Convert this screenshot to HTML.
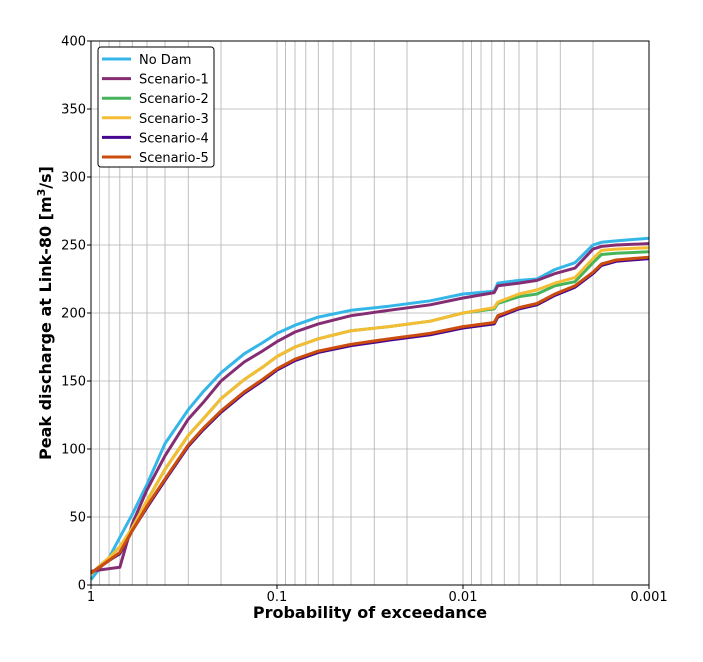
<!DOCTYPE html>
<html><head><meta charset="utf-8"><style>
body{margin:0;background:#fff;}
svg text{font-family:"DejaVu Sans","Liberation Sans",sans-serif;}
</style></head><body>
<svg id="chart" width="703" height="657" xmlns="http://www.w3.org/2000/svg">
<g id="grid"></g>
<g id="series"></g>
<rect x="91" y="41" width="558" height="544" fill="none" stroke="#000" stroke-width="1"/>
<g id="ticks"></g>
<text x="370" y="618" text-anchor="middle" font-size="16" font-weight="bold">Probability of exceedance</text>
<text transform="translate(51,313) rotate(-90)" text-anchor="middle" font-size="16" font-weight="bold">Peak discharge at Link-80 [m<tspan font-size="11" dy="-6">3</tspan><tspan dy="6">/s]</tspan></text>
<g>
<rect x="98" y="47" width="116" height="120" rx="3" fill="#fff" stroke="#000" stroke-width="1"/>
<g id="legend-items"></g>
</g>
</svg>
<script>
const probs = [1,0.9,0.8,0.7,0.6,0.5,0.4,0.3,0.25,0.2,0.15,0.12,0.1,0.08,0.06,0.04,0.025,0.015,0.01,0.0068,0.0065,0.005,0.004,0.0032,0.0025,0.002,0.0018,0.0015,0.001];
const seriesNames = ["No Dam","Scenario-1","Scenario-2","Scenario-3","Scenario-4","Scenario-5"];
const noDam = [4,12,20,35,52,74,104,129,142,156,170,178,185,191,197,202,205,209,214,216,222,224,225,232,237,250,252,253,255];
const scen1 = [10,11,12,13,45,70,95,122,134,150,164,172,179,186,192,198,202,206,211,215,220,222,224,229,233,247,249,250,251];
const scen2 = [8,14,20,28,42,62,85,110,122,137,151,160,168,175,181,187,190,194,200,203,207,212,214,220,223,237,243,244,245];
const scen3 = [8,14,20,28,42,62,85,110,122,137,151,160,168,175,181,187,190,194,200,204,208,214,217,222,226,240,246,247,248];
const scen4 = [9,13,18,23,40,57,77,102,114,127,141,150,158,165,171,176,180,184,189,192,197,203,206,213,219,229,235,238,240];
const scen5 = [9,13,18,24,40,58,78,103,115,128,142,151,159,166,172,177,181,185,190,193,198,204,207,214,220,230,236,239,241];
const yTicks = [0,50,100,150,200,250,300,350,400];
const xTicks = [1,0.1,0.01,0.001];
const xTickLabels = ["1","0.1","0.01","0.001"];
const colors = ["#35b6e9","#842d72","#45b45a","#f5bd33","#47068f","#cb4d0d"];
const allSeries = [noDam,scen1,scen2,scen3,scen4,scen5];
const L=91,R=649,T=41,B=585;
const xs = p => L + (-Math.log10(p))/3*(R-L);
const ys = v => B - v/400*(B-T);
const NS="http://www.w3.org/2000/svg";
function mk(tag,attrs,parent){const e=document.createElementNS(NS,tag);for(const k in attrs)e.setAttribute(k,attrs[k]);parent.appendChild(e);return e;}
const grid=document.getElementById('grid'), ticks=document.getElementById('ticks');
for(let d=0;d<3;d++){for(let m=1;m<=9;m++){const p=m*Math.pow(10,-d-1);const x=xs(p);
 const g=mk('line',{x1:x,x2:x,y1:T,y2:B,stroke:'#b0b0b0','stroke-width':0.8},grid);
 
 }}
yTicks.forEach(v=>{const y=ys(v);
 const g=mk('line',{x1:L,x2:R,y1:y,y2:y,stroke:'#b0b0b0','stroke-width':0.8},grid);
 
 
 mk('line',{x1:L-4,x2:L,y1:y,y2:y,stroke:'#000'},ticks);
 const t=mk('text',{x:L-5,y:y+4.5,'text-anchor':'end','font-size':13},ticks);t.textContent=v;
 
 });
xTicks.forEach((p,i)=>{const x=xs(p);
 mk('line',{x1:x,x2:x,y1:B,y2:B+4,stroke:'#000'},ticks);
 const t=mk('text',{x:x,y:B+16,'text-anchor':'middle','font-size':13},ticks);t.textContent=xTickLabels[i];
 
 });
const sg=document.getElementById('series');
allSeries.forEach((vals,i)=>{const d=vals.map((v,j)=>(j?'L':'M')+xs(probs[j]).toFixed(1)+','+ys(v).toFixed(1)).join('');
 const p=mk('path',{d:d,fill:'none',stroke:colors[i],'stroke-width':3,'stroke-linejoin':'round'},sg);
 
 });
const lg=document.getElementById('legend-items');
seriesNames.forEach((n,i)=>{const y=59+i*19.6;
 mk('line',{x1:102,x2:131,y1:y,y2:y,stroke:colors[i],'stroke-width':3},lg);
 const t=mk('text',{x:139,y:y+5,'font-size':13},lg);t.textContent=n;
 
 });
</script>
</body></html>
